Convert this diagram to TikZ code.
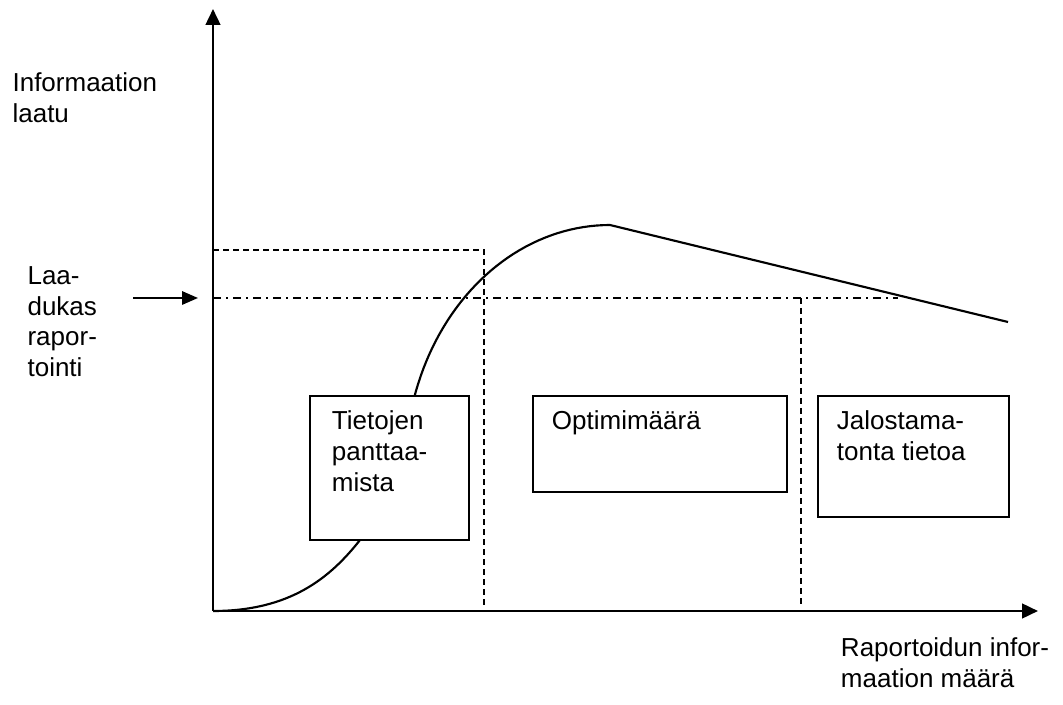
\documentclass[tikz,border=0pt]{standalone}
\usepackage{fontspec}
\setmainfont{Liberation Sans}
\usetikzlibrary{arrows.meta}
\begin{document}
\begin{tikzpicture}[x=0.75pt,y=-0.75pt,
  axis/.style={line width=1.9pt, -{Triangle[length=12pt,width=11pt]}},
  pointer/.style={line width=1.6pt, -{Triangle[length=12pt,width=10pt]}},
  curve/.style={line width=1.6pt, line join=round},
  guide/.style={line width=1.6pt, dash pattern=on 4.5pt off 3pt},
  level/.style={line width=1.6pt, dash pattern=on 6pt off 3.75pt on 1.5pt off 3.75pt},
  box/.style={draw, line width=1.6pt, fill=white, inner sep=0pt, anchor=north west},
  lbl/.style={inner sep=0pt, anchor=base west, align=left, font=\fontsize{19.5}{22.9}\selectfont}]
\useasboundingbox (0,0) rectangle (1063,705);

% axes
\coordinate (o) at (213,611);
\coordinate (ytip) at (213,9);
\coordinate (xtip) at (1038,611);
\draw[axis] (o) -- (ytip);
\draw[axis] (o) -- (xtip);

% guide lines
\coordinate (g1) at (213,250);
\coordinate (g1end) at (484,606);
\draw[guide] (g1) -| (g1end);
\coordinate (q1) at (213,298);
\coordinate (q2) at (898,298);
\draw[level] (q1) -- (q2);
\coordinate (g2) at (801,298);
\coordinate (g2end) at (801,606);
\draw[guide] (g2) -- (g2end);

% quality curve
\coordinate (peak) at (610,225);
\coordinate (tail) at (1008,322);
\draw[curve] (o) .. controls (290,611) and (330,578) .. (360,540)
  .. controls (378,517) and (404,437) .. (414,398.4)
  -- plot[domain=17:90,samples=40] ({610-205*cos(\x)},{470-245*sin(\x)})
  -- (tail);

% boxes (text nodes are anchored at the baseline of their last line)
\node[box, minimum width=119.25pt, minimum height=108pt] (b1) at (309,395) {};
\node[box, minimum width=190.5pt, minimum height=71.8pt] (b2) at (531.7,395) {};
\node[box, minimum width=143.25pt, minimum height=90.5pt] (b3) at (817.3,395) {};
\node[lbl] (t1) at (331.7,491) {Tietojen\\panttaa-\\mista};
\node[lbl] (t2) at (551.7,430) {Optimimäärä};
\node[lbl] (t3) at (836.7,460.5) {Jalostama-\\tonta tietoa};

% axis labels
\node[lbl] (ylab) at (12.3,122.2) {Informaation\\laatu};
\node[lbl] (xlab) at (840.7,687.2) {Raportoidun infor-\\maation määrä};
\node[lbl] (qlab) at (27.3,376.5) {Laa-\\dukas\\rapor-\\tointi};
\coordinate (arrstart) at (133,298);
\coordinate (arrend) at (198,298);
\draw[pointer] (arrstart) -- (arrend);
\end{tikzpicture}
\end{document}
